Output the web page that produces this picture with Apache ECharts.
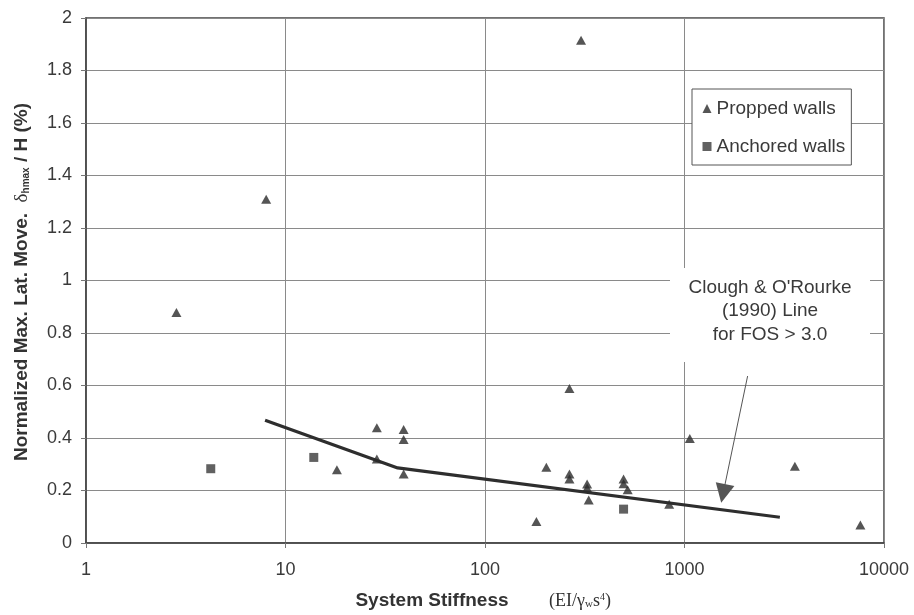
<!DOCTYPE html>
<html>
<head>
<meta charset="utf-8">
<script src="https://cdn.jsdelivr.net/npm/echarts@6/dist/echarts.min.js"></script>
<style>
  html, body { margin: 0; padding: 0; background: #fff; }
  #chart { width: 914px; height: 615px; }
</style>
</head>
<body>
<div id="chart"></div>
<script>
// ---- data ----
const proppedX = [2.84, 8.0, 18.1, 28.7, 28.7, 39.1, 39.1, 39.1, 181, 203, 265, 265, 265, 303, 325, 325, 331, 495, 495, 519, 838, 1063, 3575, 7614];
const proppedY = [0.878, 1.31, 0.279, 0.439, 0.320, 0.432, 0.394, 0.263, 0.082, 0.289, 0.589, 0.263, 0.244, 1.915, 0.225, 0.210, 0.164, 0.244, 0.226, 0.203, 0.148, 0.398, 0.292, 0.069];
const anchoredX = [4.22, 13.86, 495];
const anchoredY = [0.283, 0.326, 0.129];
const cloughX = [7.9, 36.5, 3006];
const cloughY = [0.468, 0.286, 0.098];
const arrowX = [2072, 1562];
const arrowY = [0.636, 0.189];
const xTickLabels = ['1', '10', '100', '1000', '10000'];
const yMin = 0, yMax = 2, yStep = 0.2;
const seriesNames = ['Propped walls', 'Anchored walls'];
const noteLines = ['Clough & O\'Rourke', '(1990) Line', 'for FOS > 3.0'];

const zip = (xs, ys) => xs.map((x, i) => [x, ys[i]]);

const SANS = '"Liberation Sans", Arial, Helvetica, sans-serif';
const SERIF = '"Liberation Serif", "Times New Roman", serif';
const TXT = '#3a3a3a';

const chart = echarts.init(document.getElementById('chart'), null, { renderer: 'canvas' });

const option = {
  animation: false,
  backgroundColor: '#ffffff',
  grid: {
    left: 86, right: 30, top: 18, bottom: 72,
    show: true, borderColor: '#444', borderWidth: 1.5, backgroundColor: 'transparent'
  },
  xAxis: {
    type: 'log', logBase: 10, min: 1, max: 10000,
    axisLine: { show: true, onZero: false, lineStyle: { color: '#444', width: 1.5 } },
    axisTick: { show: true, inside: false, length: 5, lineStyle: { color: '#777' } },
    splitLine: { show: true, lineStyle: { color: '#8a8a8a', width: 1 } },
    minorTick: { show: false }, minorSplitLine: { show: false },
    axisLabel: {
      fontSize: 18, color: TXT, fontFamily: SANS, margin: 18,
      formatter: v => { const i = Math.round(Math.log10(v)); return xTickLabels[i] !== undefined ? xTickLabels[i] : String(v); }
    }
  },
  yAxis: {
    type: 'value', min: yMin, max: yMax, interval: yStep,
    axisLine: { show: true, lineStyle: { color: '#444', width: 1.5 } },
    axisTick: { show: true, inside: false, length: 5, lineStyle: { color: '#777' } },
    splitLine: { show: true, lineStyle: { color: '#8a8a8a', width: 1 } },
    axisLabel: {
      fontSize: 18, color: TXT, fontFamily: SANS, margin: 14,
      formatter: v => String(+v.toFixed(1))
    }
  },
  legend: {
    data: seriesNames,
    orient: 'vertical',
    left: 692, top: 89,
    padding: [10, 6, 9, 10.5],
    itemGap: 19,
    itemWidth: 9, itemHeight: 9,
    backgroundColor: '#ffffff',
    borderColor: '#555', borderWidth: 1, borderRadius: 0,
    textStyle: { fontSize: 19, color: TXT, fontFamily: SANS },
    z: 20
  },
  series: [
    {
      name: 'Clough line', type: 'line', data: zip(cloughX, cloughY),
      showSymbol: false, symbol: 'none', smooth: false,
      lineStyle: { color: '#2e2e2e', width: 3.2 }, z: 3, silent: true
    },
    {
      name: seriesNames[0], type: 'scatter', data: zip(proppedX, proppedY),
      symbol: 'triangle', symbolSize: [10, 9],
      itemStyle: { color: '#2b2b2b' }, z: 4
    },
    {
      name: seriesNames[1], type: 'scatter', data: zip(anchoredX, anchoredY),
      symbol: 'rect', symbolSize: 9,
      itemStyle: { color: '#3a3a3a' }, z: 4
    },
    {
      name: 'arrow', type: 'lines', coordinateSystem: 'cartesian2d',
      data: [{ coords: zip(arrowX, arrowY) }],
      symbol: ['none', 'triangle'], symbolSize: [16, 19],
      lineStyle: { color: '#555', width: 1, opacity: 1 },
      itemStyle: { color: '#2b2b2b' },
      effect: { show: false }, z: 5, silent: true
    }
  ],
  graphic: [
    {
      type: 'rect', z: 30,
      shape: { x: 670, y: 268, width: 200, height: 94 },
      style: { fill: '#ffffff' }
    },
    {
      type: 'text', z: 31, x: 770, y: 311,
      style: {
        text: noteLines.join('\n'),
        fontSize: 19, fontFamily: SANS, fill: TXT,
        align: 'center', verticalAlign: 'middle',
        textAlign: 'center', textVerticalAlign: 'middle',
        lineHeight: 23.7
      }
    },
    {
      type: 'text', z: 31, x: 22, y: 282, rotation: Math.PI / 2,
      style: {
        text: '{a|Normalized Max. Lat. Move.  }{d|δ}{s|hmax}{a| / H (%)}',
        align: 'center', verticalAlign: 'middle',
        textAlign: 'center', textVerticalAlign: 'middle',
        rich: {
          a: { fontSize: 19, fontWeight: 'bold', fontFamily: SANS, fill: '#333' },
          d: { fontSize: 19, fontFamily: SERIF, fill: '#333' },
          s: { fontSize: 10, fontWeight: 'bold', fontFamily: SANS, fill: '#333', verticalAlign: 'bottom' }
        }
      }
    },
    {
      type: 'text', z: 31, x: 432, y: 601,
      style: {
        text: 'System Stiffness',
        fontSize: 19, fontWeight: 'bold', fontFamily: SANS, fill: '#333',
        align: 'center', verticalAlign: 'middle',
        textAlign: 'center', textVerticalAlign: 'middle'
      }
    },
    {
      type: 'text', z: 31, x: 580, y: 601,
      style: {
        text: '{p|(EI/γ}{w|w}{p|s}{u|4}{p|)}',
        align: 'center', verticalAlign: 'middle',
        textAlign: 'center', textVerticalAlign: 'middle',
        rich: {
          p: { fontSize: 18, fontFamily: SERIF, fill: '#333' },
          w: { fontSize: 11, fontFamily: SERIF, fill: '#333', verticalAlign: 'bottom' },
          u: { fontSize: 10, fontFamily: SERIF, fill: '#333', verticalAlign: 'top' }
        }
      }
    }
  ]
};

chart.setOption(option);
</script>
</body>
</html>
